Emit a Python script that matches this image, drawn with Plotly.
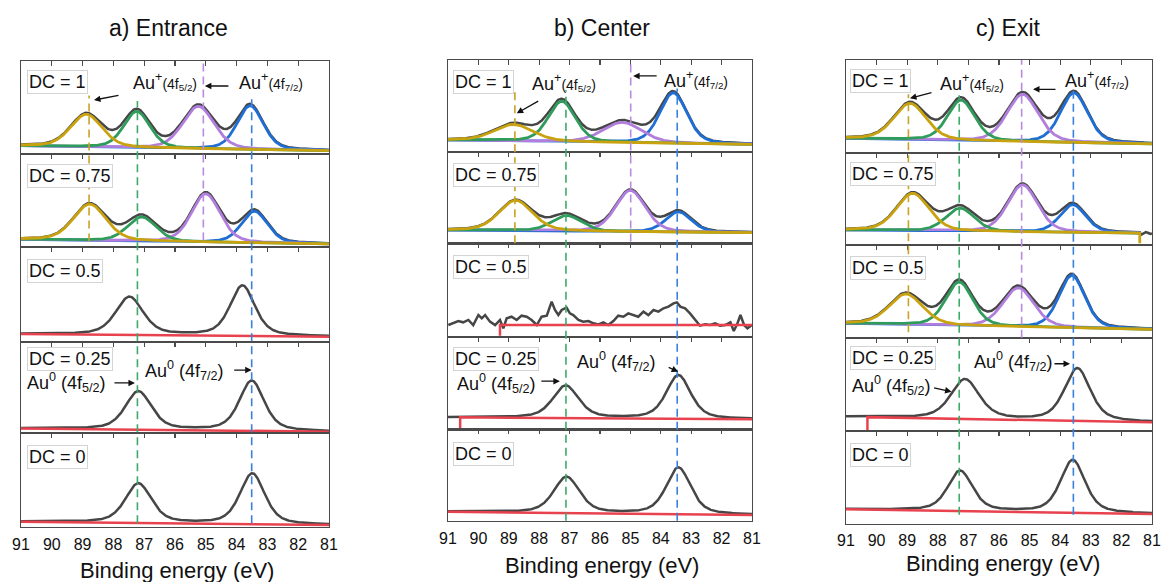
import numpy as np
import plotly.graph_objects as go

# ======================= DATA =======================
column_titles = ["a) Entrance", "b) Center", "c) Exit"]
dc_labels = ["DC = 1", "DC = 0.75", "DC = 0.5", "DC = 0.25", "DC = 0"]
x_tick_values = [91, 90, 89, 88, 87, 86, 85, 84, 83, 82, 81]
x_tick_labels = ["91", "90", "89", "88", "87", "86", "85", "84", "83", "82", "81"]
x_axis_title = "Binding energy (eV)"
energy_range = [91, 81]

# Fitted components, order: Au+ 4f5/2, Au0 4f5/2, Au+ 4f7/2, Au0 4f7/2
# heights in normalised intensity of each panel; baselines = [value at 91 eV, value at 81 eV]
# ---- a) Entrance
ent_fit_center = [[88.88, 87.24, 85.24, 83.56], [88.77, 87.08, 85.00, 83.42]]
ent_fit_height = [[0.35, 0.39, 0.455, 0.47], [0.39, 0.26, 0.52, 0.34]]
ent_fit_fwhm = [[1.20, 1.00, 1.20, 1.00], [1.25, 1.10, 1.10, 1.00]]
ent_fit_base = [[0.089, 0.035], [0.083, 0.032]]
ent_au0_center = [[87.48, 83.81], [87.19, 83.51], [87.19, 83.49]]
ent_au0_height = [[0.40, 0.53], [0.42, 0.55], [0.42, 0.54]]
ent_au0_fwhm = [[1.05, 0.95], [1.00, 0.95], [1.00, 0.95]]
ent_au0_base = [[0.084, 0.056], [0.050, 0.015], [0.056, 0.020]]

# ---- b) Center
cen_fit_center = [[88.85, 87.26, 85.27, 83.59], [88.77, 87.10, 85.00, 83.42]]
cen_fit_height = [[0.18, 0.44, 0.22, 0.55], [0.33, 0.17, 0.45, 0.22]]
cen_fit_fwhm = [[1.50, 1.05, 1.50, 1.05], [1.30, 1.15, 1.15, 1.00]]
cen_fit_base = [[0.128, 0.080], [0.145, 0.116]]
cen_dc05_energy = [90.99, 90.82, 90.66, 90.50, 90.33, 90.17, 90.00, 89.89, 89.78, 89.62,
                   89.45, 89.29, 89.18, 89.07, 88.91, 88.74, 88.58, 88.41, 88.25, 88.08,
                   87.92, 87.75, 87.59, 87.48, 87.37, 87.26, 87.10, 86.99, 86.88, 86.71,
                   86.55, 86.38, 86.22, 86.05, 85.89, 85.73, 85.56, 85.40, 85.23, 85.07,
                   84.90, 84.74, 84.57, 84.41, 84.24, 84.08, 83.91, 83.75, 83.58, 83.47,
                   83.36, 83.20, 83.04, 82.87, 82.71, 82.54, 82.38, 82.21, 82.05, 81.88,
                   81.71, 81.60, 81.49, 81.38, 81.26, 81.15, 81.00]
cen_dc05_counts = [0.125, 0.143, 0.168, 0.154, 0.179, 0.125, 0.232, 0.197, 0.232, 0.161,
                   0.125, 0.179, 0.090, 0.197, 0.214, 0.179, 0.225, 0.214, 0.179, 0.125,
                   0.214, 0.225, 0.375, 0.286, 0.232, 0.286, 0.311, 0.250, 0.232, 0.179,
                   0.161, 0.168, 0.143, 0.132, 0.154, 0.125, 0.168, 0.225, 0.214, 0.250,
                   0.232, 0.214, 0.268, 0.232, 0.286, 0.268, 0.304, 0.322, 0.357, 0.368,
                   0.322, 0.304, 0.250, 0.179, 0.118, 0.132, 0.125, 0.143, 0.118, 0.125,
                   0.154, 0.061, 0.132, 0.232, 0.125, 0.090, 0.125]
cen_dc05_base = [0.125, 0.125]
cen_au0_center = [[87.13, 83.42], [87.10, 83.42]]
cen_au0_height = [[0.35, 0.47], [0.395, 0.51]]
cen_au0_fwhm = [[1.00, 0.95], [1.00, 0.95]]
cen_au0_base = [[0.130, 0.108], [0.098, 0.062]]

# ---- c) Exit
exi_fit_center = [[88.91, 87.24, 85.23, 83.55], [88.82, 87.27, 85.23, 83.59], [89.04, 87.30, 85.37, 83.62]]
exi_fit_height = [[0.39, 0.435, 0.51, 0.535], [0.405, 0.25, 0.51, 0.30], [0.33, 0.47, 0.42, 0.565]]
exi_fit_fwhm = [[1.25, 1.05, 1.20, 1.05], [1.25, 1.10, 1.15, 1.00], [1.30, 1.05, 1.20, 1.00]]
exi_fit_base = [[0.155, 0.094], [0.163, 0.127], [0.155, 0.090]]
exi_fit_end = [81.0, 81.4, 81.0]
exi_dc075_drop = 0.02
exi_dc075_tail_energy = [81.36, 81.28, 81.20, 81.12, 81.05, 81.00]
exi_dc075_tail_counts = [0.110, 0.125, 0.140, 0.130, 0.120, 0.125]
exi_au0_center = [[87.11, 83.44], [87.27, 83.59]]
exi_au0_height = [[0.425, 0.565], [0.43, 0.565]]
exi_au0_fwhm = [[1.10, 1.00], [0.95, 0.95]]
exi_au0_base = [[0.150, 0.090], [0.158, 0.107]]

# red background lines that start inside the window: [start energy, drop level]
cen_dc05_red_start = [89.29, 0.01]
cen_dc025_red_start = [90.60, 0.014]
exi_dc025_red_start = [90.30, 0.0]

# dashed reference energies per column: Au+4f5/2, Au0 4f5/2, Au+4f7/2, Au0 4f7/2
ent_dash_energy = [88.79, 87.22, 85.08, 83.51]
cen_dash_energy = [88.80, 87.12, 84.99, 83.46]
exi_dash_energy = [88.96, 87.30, 85.26, 83.57]

fit_eta = 0.3
au0_eta = 0.5

# ======================= STYLE / LAYOUT =======================
FW, FH = 1162, 582
FONT = "Liberation Sans, Arial, sans-serif"
GOLD, GREEN, PURPLE, BLUE = "#C9A20F", "#2F9C5C", "#B27EDD", "#1F6ED4"
DGOLD, DGREEN, DPURPLE, DBLUE = "#C9A227", "#3DAA6A", "#B98BE0", "#3A80DC"
GRAY, RED, FRAME = "#464646", "#E8424E", "#4A4A4A"
comp_colors = [GOLD, GREEN, PURPLE, BLUE]
dash_colors = [DGOLD, DGREEN, DPURPLE, DBLUE]

col_x = [(21, 329), (448, 752), (846, 1152)]
col_y = [[61, 154, 247, 342, 433, 527],
         [60, 151.7, 243.3, 336.7, 429.3, 520.7],
         [60, 152.7, 245, 337.7, 430.7, 524]]
title_pos = [(168, 28), (602, 28), (1008, 28)]
xtitle_pos = [(177, 570), (602, 565), (1003, 563)]
tick_standoff = [6, 6, 5]
label_inset = [6, 5, 4]
label_offset = [[21, 22, 24, 17, 24], [22.5, 23, 24, 22, 25], [21, 21, 23, 20, 24]]
# dashed extents: (start row, frac) -> (end row, frac)
dash_extent = [
    [((0, 0.63), (1, 0.06)), ((0, 0.57), (4, 0.04)), ((0, 1.0), (1, 0.07)), ((0, 0.62), (4, 0.04))],
    [((0, 0.69), (1, 0.0)), ((0, 0.67), (4, 0.0)), ((0, 1.0), (1, 0.02)), ((0, 0.69), (4, 0.0))],
    [((0, 0.63), (2, 0.06)), ((0, 0.62), (4, 0.1)), ((0, 1.0), (2, 0.0)), ((0, 0.68), (4, 0.1))],
]

AUP52 = "Au<sup>+</sup><span style='font-size:14px'>(4f<sub>5/2</sub>)</span>"
AUP72 = "Au<sup>+</sup><span style='font-size:14px'>(4f<sub>7/2</sub>)</span>"
AU052 = "Au<sup>0</sup> (4f<sub>5/2</sub>)"
AU072 = "Au<sup>0</sup> (4f<sub>7/2</sub>)"
# (row, text, text E, text frac, head E, head frac, ax, ay)
label_specs = [
    [(0, AUP52, 87.42, 0.774, 88.63, 0.58, 26, -5), (0, AUP72, 83.99, 0.774, 85.03, 0.731, 25, 0),
     (3, AU072, 87.04, 0.692, 83.51, 0.692, -19, 0), (3, AU052, 90.87, 0.55, 87.30, 0.55, -22, 0)],
    [(0, AUP52, 88.30, 0.749, 88.74, 0.419, 23, -13), (0, AUP72, 83.96, 0.782, 84.91, 0.826, 25, 0),
     (3, AU072, 86.82, 0.73, 83.43, 0.622, -11, -5), (3, AU052, 90.77, 0.50, 87.32, 0.52, -20, 0)],
    [(0, AUP52, 87.99, 0.752, 88.91, 0.587, 23, -6), (0, AUP72, 83.91, 0.784, 84.89, 0.684, 24, 0),
     (3, AU072, 86.88, 0.742, 83.68, 0.72, -17, 0), (3, AU052, 90.87, 0.49, 87.55, 0.42, -19, -4)],
]


def pv(E, c, w, eta):
    d = (np.asarray(E) - c) / w
    return eta / (1 + 4 * d * d) + (1 - eta) * np.exp(-4 * np.log(2) * d * d)


def base(E, b):
    return b[0] + (b[1] - b[0]) * (91 - np.asarray(E)) / 10


def sfx(k):
    return "" if k == 1 else str(k)


# panel descriptions (assembled from the arrays above)
panels = [
    [("fit", ent_fit_center[0], ent_fit_height[0], ent_fit_fwhm[0], ent_fit_base[0], 81.0),
     ("fit", ent_fit_center[1], ent_fit_height[1], ent_fit_fwhm[1], ent_fit_base[1], 81.0),
     ("au0", ent_au0_center[0], ent_au0_height[0], ent_au0_fwhm[0], ent_au0_base[0], None),
     ("au0", ent_au0_center[1], ent_au0_height[1], ent_au0_fwhm[1], ent_au0_base[1], None),
     ("au0", ent_au0_center[2], ent_au0_height[2], ent_au0_fwhm[2], ent_au0_base[2], None)],
    [("fit", cen_fit_center[0], cen_fit_height[0], cen_fit_fwhm[0], cen_fit_base[0], 81.0),
     ("fit", cen_fit_center[1], cen_fit_height[1], cen_fit_fwhm[1], cen_fit_base[1], 81.0),
     ("noisy", cen_dc05_energy, cen_dc05_counts, None, cen_dc05_base, cen_dc05_red_start),
     ("au0", cen_au0_center[0], cen_au0_height[0], cen_au0_fwhm[0], cen_au0_base[0], cen_dc025_red_start),
     ("au0", cen_au0_center[1], cen_au0_height[1], cen_au0_fwhm[1], cen_au0_base[1], None)],
    [("fit", exi_fit_center[0], exi_fit_height[0], exi_fit_fwhm[0], exi_fit_base[0], exi_fit_end[0]),
     ("fit", exi_fit_center[1], exi_fit_height[1], exi_fit_fwhm[1], exi_fit_base[1], exi_fit_end[1]),
     ("fit", exi_fit_center[2], exi_fit_height[2], exi_fit_fwhm[2], exi_fit_base[2], exi_fit_end[2]),
     ("au0", exi_au0_center[0], exi_au0_height[0], exi_au0_fwhm[0], exi_au0_base[0], exi_dc025_red_start),
     ("au0", exi_au0_center[1], exi_au0_height[1], exi_au0_fwhm[1], exi_au0_base[1], None)],
]
dash_energies = [ent_dash_energy, cen_dash_energy, exi_dash_energy]

fig = go.Figure()
layout = dict(template="none", width=FW, height=FH, margin=dict(l=0, r=0, t=0, b=0, pad=0, autoexpand=False),
              paper_bgcolor="white", plot_bgcolor="white", showlegend=False,
              font=dict(family=FONT, color="#111"))
annotations, shapes = [], []


def line(x, y, xa, ya, color, width, dash=None):
    fig.add_trace(go.Scatter(x=x, y=y, mode="lines", xaxis=xa, yaxis=ya, hoverinfo="skip",
                             line=dict(color=color, width=width, dash=dash)))


def paper_y(ci, row, frac):
    yt, yb = col_y[ci][row], col_y[ci][row + 1]
    return 1 - (yb - frac * (yb - yt)) / FH


for ci in range(3):
    x0, x1 = col_x[ci]
    for r in range(5):
        k = ci * 5 + r + 1
        xa, ya = "x" + sfx(k), "y" + sfx(k)
        yt, yb = col_y[ci][r], col_y[ci][r + 1]
        layout["xaxis" + sfx(k)] = dict(domain=[x0 / FW, x1 / FW], range=energy_range, anchor=ya,
                                        side="top", ticks="inside", ticklen=5, tickwidth=1.1, tickcolor=FRAME,
                                        tickvals=x_tick_values[1:-1], showticklabels=False, automargin=False,
                                        showline=True, linecolor=FRAME, linewidth=1.2, mirror=True,
                                        showgrid=False, zeroline=False)
        layout["yaxis" + sfx(k)] = dict(domain=[1 - yb / FH, 1 - yt / FH], range=[0, 1], anchor=xa,
                                        showticklabels=False, ticks="", showline=True, linecolor=FRAME,
                                        linewidth=1.2, mirror=True, showgrid=False, zeroline=False,
                                        automargin=False)
        kind, a1, a2, a3, bl, extra = panels[ci][r]
        if kind == "fit":
            E = np.linspace(91, extra, 600)
            b = base(E, bl)
            comps = [h * pv(E, c, w, fit_eta) for c, h, w in zip(a1, a2, a3)]
            env = b + sum(comps)
            ex, ey = list(E), list(env)
            if extra > 81:
                ex += exi_dc075_tail_energy
                ey += exi_dc075_tail_counts
            line(ex, ey, xa, ya, GRAY, 2.5)
            for j in [3, 2, 1, 0]:
                cx, cy = list(E), list(b + comps[j])
                if extra > 81 and j == 0:
                    cx += [extra]
                    cy += [exi_dc075_drop]
                line(cx, cy, xa, ya, comp_colors[j], 2.8)
        else:
            if kind == "au0":
                E = np.linspace(91, 81, 600)
                gy = base(E, bl) + sum(h * pv(E, c, w, au0_eta) for c, h, w in zip(a1, a2, a3))
                gx = E
            else:
                gx, gy = a1, a2
            line(list(gx), list(gy), xa, ya, GRAY, 2.5)
            if extra is None:
                rx = [91, 81]
                ry = list(base(rx, bl))
            else:
                rx = [extra[0], extra[0], 81]
                ry = [extra[1], float(base(extra[0], bl)), float(base(81, bl))]
            line(rx, ry, xa, ya, RED, 2.5)
        # panel label
        h = yb - yt
        annotations.append(dict(xref=xa + " domain", yref=ya + " domain",
                                x=label_inset[ci] / (x1 - x0), y=1 - label_offset[ci][r] / h,
                                xanchor="left", yanchor="middle", showarrow=False,
                                text=dc_labels[r], font=dict(size=18, color="#111"),
                                bgcolor="white", bordercolor="#D4D4D4", borderwidth=1, borderpad=1))
    # bottom tick-label axis
    kb = 15 + ci + 1
    base_k = ci * 5 + 5
    layout[f"xaxis{kb}"] = dict(overlaying=f"x{base_k}", anchor=f"y{base_k}", range=energy_range,
                                side="bottom", ticks="", tickvals=x_tick_values, ticktext=x_tick_labels,
                                tickfont=dict(size=16, color="#111"), ticklabelstandoff=tick_standoff[ci],
                                showline=False, showgrid=False, zeroline=False, automargin=False)
    fig.add_trace(go.Scatter(x=[None], y=[None], xaxis=f"x{kb}", yaxis=f"y{base_k}",
                             mode="lines", hoverinfo="skip"))
    # dashed reference lines
    for j in range(4):
        (r0, f0), (r1, f1) = dash_extent[ci][j]
        shapes.append(dict(type="line", xref="x" + sfx(ci * 5 + 1), yref="paper",
                           x0=dash_energies[ci][j], x1=dash_energies[ci][j],
                           y0=paper_y(ci, r1, f1), y1=paper_y(ci, r0, f0),
                           line=dict(color=dash_colors[j], width=1.6, dash="8px,5px"), layer="above"))
    # titles
    annotations.append(dict(xref="paper", yref="paper", x=title_pos[ci][0] / FW, y=1 - title_pos[ci][1] / FH,
                            text=column_titles[ci], showarrow=False, xanchor="center", yanchor="middle",
                            font=dict(size=23, color="#111")))
    annotations.append(dict(xref="paper", yref="paper", x=xtitle_pos[ci][0] / FW, y=1 - xtitle_pos[ci][1] / FH,
                            text=x_axis_title, showarrow=False, xanchor="center", yanchor="middle",
                            font=dict(size=22, color="#111")))
    # peak labels and arrows
    for (r, txt, tE, tf, hE, hf, ax, ay) in label_specs[ci]:
        k = ci * 5 + r + 1
        annotations.append(dict(xref="x" + sfx(k), yref="y" + sfx(k), x=tE, y=tf, text=txt, showarrow=False,
                                xanchor="left", yanchor="middle", font=dict(size=18, color="#111")))
        annotations.append(dict(xref="x" + sfx(k), yref="y" + sfx(k), x=hE, y=hf, ax=ax, ay=ay, text="",
                                showarrow=True, arrowhead=2, arrowsize=1, arrowwidth=1.3,
                                arrowcolor="#111", standoff=0))

layout["annotations"] = annotations
layout["shapes"] = shapes
fig.update_layout(**layout)
fig.write_html("out.html", config={"displayModeBar": False, "staticPlot": True},
               post_script="document.body.style.margin='0';document.body.style.overflow='hidden';")
